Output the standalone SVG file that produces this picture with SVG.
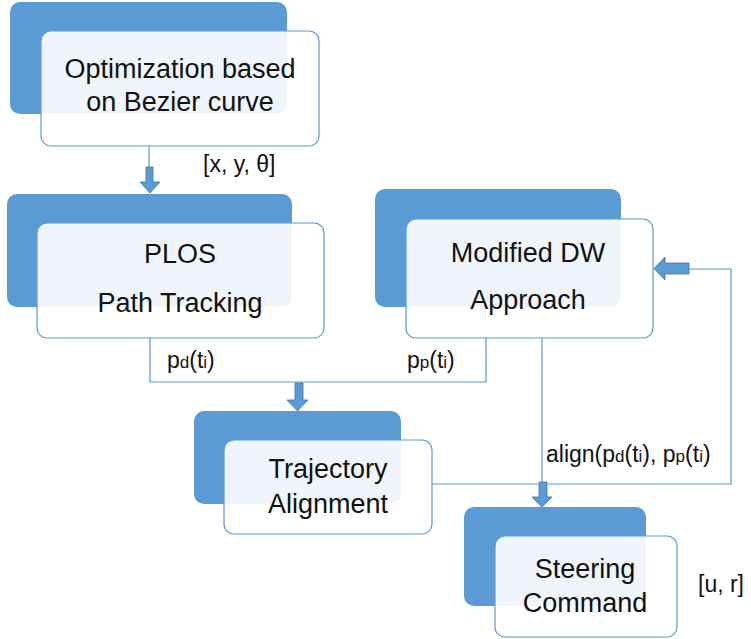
<svg xmlns="http://www.w3.org/2000/svg" width="751" height="639" viewBox="0 0 751 639">
<style>
.bg{fill:#5B9BD5}
.fg{fill:#FFFFFF;fill-opacity:0.9;stroke:#5B9BD5;stroke-width:1.2}
.t{font-family:"Liberation Sans",Arial,sans-serif;font-size:27px;fill:#111;text-anchor:middle}
.l{font-family:"Liberation Sans",Arial,sans-serif;font-size:23px;fill:#111}
.s{font-size:17px}
.ln{fill:none;stroke:#5B9BD5;stroke-width:1.2}
.ar{fill:#5B9BD5;stroke:#41719C;stroke-width:0.8}
</style>
<rect width="751" height="639" fill="#FFFFFF"/>
<g id="connectors">
<polyline class="ln" points="149,146 149,167"/>
<polygon class="ar" points="146,167 153,167 153,182 160,182 150,193 140,182 146,182"/>
<polyline class="ln" points="150,338 150,382 486,382 486,338"/>
<polygon class="ar" points="295,383 303,383 303,400 308,400 297.5,411 287,400 295,400"/>
<polyline class="ln" points="542,338 542,482"/>
<polygon class="ar" points="539,482 547,482 547,497 552,497 542,507 532,497 539,497"/>
<polyline class="ln" points="432,484 731,484 731,269 689,269"/>
<polygon class="ar" points="689,263 689,274 665,274 665,280 654,268.5 665,257 665,263"/>
</g>
<g id="node-optimization">
<rect class="bg" x="10" y="2" width="277" height="112" rx="10"/>
<rect class="fg" x="41" y="31" width="278" height="115" rx="10"/>
<text class="t" x="180" y="78">Optimization based</text>
<text class="t" x="180" y="111">on Bezier curve</text>
</g>
<g id="node-plos">
<rect class="bg" x="7" y="194" width="285" height="113" rx="10"/>
<rect class="fg" x="37" y="223" width="287" height="115" rx="10"/>
<text class="t" x="180" y="263">PLOS</text>
<text class="t" x="180" y="312">Path Tracking</text>
</g>
<g id="node-dw">
<rect class="bg" x="375" y="189" width="246" height="118" rx="10"/>
<rect class="fg" x="406" y="219" width="247" height="119" rx="10"/>
<text class="t" x="528" y="262">Modified DW</text>
<text class="t" x="528" y="309">Approach</text>
</g>
<g id="node-alignment">
<rect class="bg" x="194" y="411" width="207" height="93" rx="10"/>
<rect class="fg" x="224" y="440" width="208" height="94" rx="10"/>
<text class="t" x="328" y="478">Trajectory</text>
<text class="t" x="328" y="513">Alignment</text>
</g>
<g id="node-steering">
<rect class="bg" x="464" y="507" width="182" height="99" rx="10"/>
<rect class="fg" x="495" y="536" width="182" height="101" rx="10"/>
<text class="t" x="585" y="578">Steering</text>
<text class="t" x="585" y="612">Command</text>
</g>
<g id="labels">
<text class="l" x="203" y="172">[x, y, θ]</text>
<text class="l" x="167" y="368">p<tspan class="s">d</tspan>(t<tspan class="s">i</tspan>)</text>
<text class="l" x="407" y="368">p<tspan class="s">p</tspan>(t<tspan class="s">i</tspan>)</text>
<text class="l" x="546" y="462">align(p<tspan class="s">d</tspan>(t<tspan class="s">i</tspan>), p<tspan class="s">p</tspan>(t<tspan class="s">i</tspan>)</text>
<text class="l" x="698" y="592">[u, r]</text>
</g>
</svg>
